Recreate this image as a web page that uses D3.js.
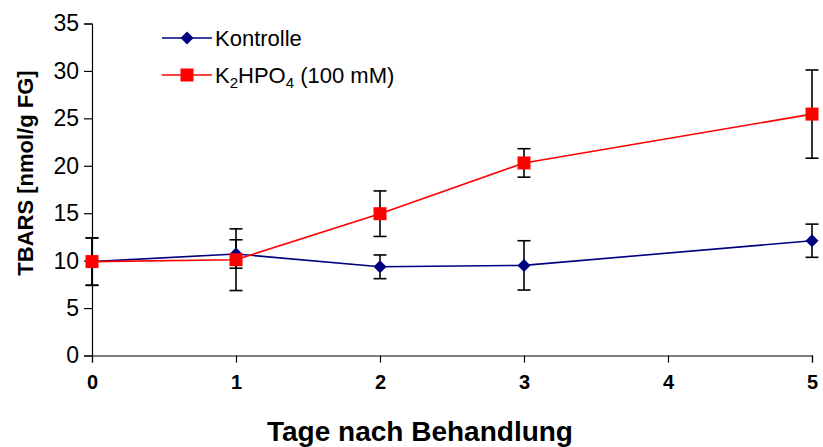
<!DOCTYPE html>
<html>
<head>
<meta charset="utf-8">
<script src="https://cdn.jsdelivr.net/npm/d3@7"></script>
<style>
  html, body { margin: 0; padding: 0; background: #fff; }
  svg { display: block; font-family: "Liberation Sans", Arial, sans-serif; }
</style>
</head>
<body>
<svg id="chart" width="823" height="447"></svg>
<script>
// Days after treatment
const days = [0, 1, 2, 3, 5];
const xTicks = [0, 1, 2, 3, 4, 5];
const yTicks = [0, 5, 10, 15, 20, 25, 30, 35];

// TBARS means and standard deviations, control group
const kontrolle = [9.9, 10.7, 9.35, 9.5, 12.1];
const kontrolleSD = [2.5, 1.5, 1.25, 2.6, 1.75];

// TBARS means and standard deviations, K2HPO4 (100 mM)
const k2hpo4 = [9.9, 10.1, 14.95, 20.3, 25.45];
const k2hpo4SD = [2.5, 3.25, 2.4, 1.5, 4.65];

const svg = d3.select("#chart");

const x = d3.scaleLinear().domain([0, 5]).range([92, 812]);
const y = d3.scaleLinear().domain([0, 35]).range([355.5, 23.5]);

// Axes
const yAxis = svg.append("g")
  .attr("transform", `translate(${x(0)},0)`)
  .call(d3.axisLeft(y).tickValues(yTicks).tickSize(8).tickPadding(5).tickFormat(d3.format("d")));
yAxis.select(".domain").attr("stroke", "#000").attr("stroke-width", 1.2);
yAxis.selectAll(".tick line").attr("stroke", "#000").attr("stroke-width", 1.2);
yAxis.selectAll(".tick text")
  .attr("fill", "#000")
  .style("font-size", "23px")
  .style("font-family", "'Liberation Sans', Arial, sans-serif");

const xAxis = svg.append("g")
  .attr("transform", `translate(0,${y(0)})`)
  .call(d3.axisBottom(x).tickValues(xTicks).tickSize(7).tickPadding(12).tickFormat(d3.format("d")));
xAxis.select(".domain").attr("stroke", "#000").attr("stroke-width", 1.2);
xAxis.selectAll(".tick line").attr("stroke", "#000").attr("stroke-width", 1.2);
xAxis.selectAll(".tick text")
  .attr("fill", "#000")
  .style("font-size", "20px")
  .style("font-weight", "bold")
  .style("font-family", "'Liberation Sans', Arial, sans-serif");

// Axis titles
svg.append("text")
  .attr("x", 420).attr("y", 441)
  .attr("text-anchor", "middle")
  .style("font-size", "28px").style("font-weight", "bold")
  .text("Tage nach Behandlung");

svg.append("text")
  .attr("transform", "translate(33,173) rotate(-90)")
  .attr("text-anchor", "middle")
  .style("font-size", "22px").style("font-weight", "bold")
  .text("TBARS [nmol/g FG]");

// Series definitions
const series = [
  { name: "kontrolle", values: kontrolle, sd: kontrolleSD, color: "#000080", marker: "diamond" },
  { name: "k2hpo4", values: k2hpo4, sd: k2hpo4SD, color: "#ff0000", marker: "square" }
];

const line = d3.line().x(d => x(d[0])).y(d => y(d[1]));
const capHalf = 6.5;

// Error bars (drawn beneath lines and markers)
const errG = svg.append("g").attr("stroke", "#000").attr("stroke-width", 1.6);
series.forEach(s => {
  days.forEach((day, i) => {
    const cx = x(day), top = y(s.values[i] + s.sd[i]), bot = y(s.values[i] - s.sd[i]);
    errG.append("line").attr("x1", cx).attr("x2", cx).attr("y1", top).attr("y2", bot);
    errG.append("line").attr("x1", cx - capHalf).attr("x2", cx + capHalf).attr("y1", top).attr("y2", top);
    errG.append("line").attr("x1", cx - capHalf).attr("x2", cx + capHalf).attr("y1", bot).attr("y2", bot);
  });
});

function drawMarker(g, type, cx, cy, color) {
  if (type === "square") {
    g.append("rect").attr("x", cx - 6.5).attr("y", cy - 6.5).attr("width", 13).attr("height", 13).attr("fill", color);
  } else {
    g.append("path")
      .attr("d", `M${cx},${cy - 6.5}L${cx + 6.5},${cy}L${cx},${cy + 6.5}L${cx - 6.5},${cy}Z`)
      .attr("fill", color);
  }
}

// Lines and markers
series.forEach(s => {
  const pts = days.map((d, i) => [d, s.values[i]]);
  svg.append("path").datum(pts)
    .attr("fill", "none").attr("stroke", s.color).attr("stroke-width", 1.6)
    .attr("d", line);
  const mg = svg.append("g");
  pts.forEach(p => drawMarker(mg, s.marker, x(p[0]), y(p[1]), s.color));
});

// Legend
const legend = svg.append("g");
const legendRows = [
  { s: series[0], y: 38 },
  { s: series[1], y: 75 }
];
legendRows.forEach(r => {
  legend.append("line").attr("x1", 162).attr("x2", 212).attr("y1", r.y).attr("y2", r.y)
    .attr("stroke", r.s.color).attr("stroke-width", 1.6);
  drawMarker(legend, r.s.marker, 187, r.y, r.s.color);
});
legend.append("text").attr("x", 215).attr("y", 45.5)
  .style("font-size", "22px").text("Kontrolle");
const kt = legend.append("text").attr("x", 215).attr("y", 82.5).style("font-size", "22px");
kt.append("tspan").text("K");
kt.append("tspan").attr("dy", 5).style("font-size", "15px").text("2");
kt.append("tspan").attr("dy", -5).text("HPO");
kt.append("tspan").attr("dy", 5).style("font-size", "15px").text("4");
kt.append("tspan").attr("dy", -5).text(" (100 mM)");
</script>
</body>
</html>
